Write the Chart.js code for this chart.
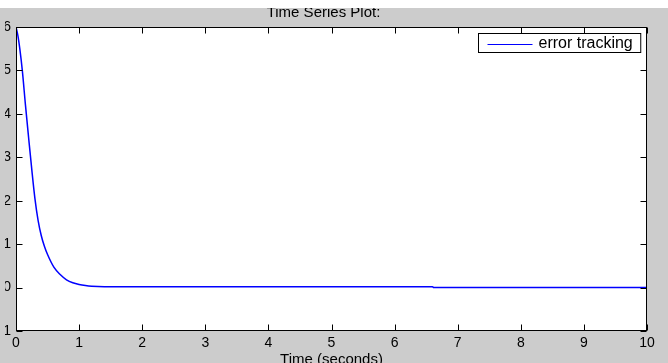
<!DOCTYPE html>
<html>
<head>
<meta charset="utf-8">
<title>Time Series Plot</title>
<script src="https://cdn.jsdelivr.net/npm/chart.js@4/dist/chart.umd.min.js"></script>
<style>
  html, body { margin: 0; padding: 0; background: #fff; overflow: hidden; }
  #wrap {
    position: absolute; left: 0; top: 8px;
    width: 668px; height: 355px;
    overflow: hidden; background: #cccccc;
  }
  #plot { position: absolute; left: 0; top: -10px; }
  /* figure edge trims the left side of the y tick labels */
  #edge { position: absolute; left: 0; top: 0; width: 5px; height: 355px; background: #cccccc; }
</style>
</head>
<body>
<div id="wrap"><canvas id="plot" width="668" height="380"></canvas><div id="edge"></div></div>
<script>
// error signal sampled over time
const timeSec = [0, 0.03, 0.06, 0.1, 0.15, 0.2, 0.25, 0.3, 0.35, 0.4, 0.45, 0.5, 0.6, 0.7,
  0.8, 0.9, 1.0, 1.1, 1.2, 1.4, 2, 3, 4, 5, 6, 6.6, 6.62, 7, 8, 9, 10];
const errorTracking = [6.0, 5.8, 5.5, 5.0, 4.2, 3.45, 2.72, 2.05, 1.55, 1.2, 0.95, 0.76, 0.47, 0.3,
  0.18, 0.11, 0.07, 0.045, 0.03, 0.02, 0.02, 0.02, 0.02, 0.02, 0.02, 0.02, 0.0, 0.0, 0.0, 0.0, 0.0];

const xTicks = [0, 1, 2, 3, 4, 5, 6, 7, 8, 9, 10];
const yTicks = [-1, 0, 1, 2, 3, 4, 5, 6];

const FONT = "'Liberation Sans', Arial, sans-serif";
const TICK_LEN = 6;

// MATLAB style axes: white plot area, full box with inward ticks on all four sides
const axesBox = {
  id: "axesBox",
  beforeDatasetsDraw(chart) {
    const { ctx, chartArea: a } = chart;
    ctx.save();
    ctx.fillStyle = "#fff";
    ctx.fillRect(a.left, a.top, a.right - a.left, a.bottom - a.top);
    ctx.restore();
  },
  afterDatasetsDraw(chart) {
    const { ctx, chartArea: a, scales } = chart;
    const L = Math.round(a.left) + 0.5, R = Math.round(a.right) - 0.5;
    const T = Math.round(a.top) + 0.5, B = Math.round(a.bottom) - 0.5;
    ctx.save();
    ctx.strokeStyle = "#000";
    ctx.lineWidth = 1;
    ctx.beginPath();
    xTicks.forEach((v) => {
      const px = Math.round(scales.x.getPixelForValue(v)) + 0.5;
      ctx.moveTo(px, B); ctx.lineTo(px, B - TICK_LEN);
      ctx.moveTo(px, T); ctx.lineTo(px, T + TICK_LEN);
    });
    yTicks.forEach((v) => {
      const py = Math.round(scales.y.getPixelForValue(v)) + 0.5;
      ctx.moveTo(L, py); ctx.lineTo(L + TICK_LEN, py);
      ctx.moveTo(R, py); ctx.lineTo(R - TICK_LEN, py);
    });
    ctx.stroke();
    ctx.strokeRect(L, T, R - L, B - T);
    ctx.restore();
  },
};

// legend box in the upper right corner of the axes
const insideLegend = {
  id: "insideLegend",
  afterDraw(chart) {
    const { ctx, chartArea: a } = chart;
    const ds = chart.data.datasets[0];
    ctx.save();
    ctx.font = "16px " + FONT;
    const tw = ctx.measureText(ds.label).width;
    const w = 9 + 45 + 6 + tw + 8, h = 19;
    const x = Math.round(a.right - 7 - w) + 0.5, y = Math.round(a.top + 6) + 0.5;
    ctx.fillStyle = "#fff";
    ctx.fillRect(x, y, w, h);
    ctx.strokeStyle = "#000";
    ctx.lineWidth = 1;
    ctx.strokeRect(x, y, w, h);
    ctx.strokeStyle = ds.borderColor;
    ctx.beginPath();
    ctx.moveTo(x + 9, y + 11); ctx.lineTo(x + 54, y + 11);
    ctx.stroke();
    ctx.fillStyle = "#000";
    ctx.textBaseline = "middle";
    ctx.fillText(ds.label, x + 60, y + h / 2 + 0.5);
    ctx.restore();
  },
};

new Chart(document.getElementById("plot"), {
  type: "line",
  data: {
    datasets: [
      {
        label: "error tracking",
        data: timeSec.map((t, i) => ({ x: t, y: errorTracking[i] })),
        borderColor: "#0000ff",
        borderWidth: 1.5,
        pointRadius: 0,
        cubicInterpolationMode: "monotone",
        fill: false,
      },
    ],
  },
  options: {
    responsive: false,
    devicePixelRatio: 1,
    animation: false,
    layout: { padding: { top: 0, right: 21, bottom: 0, left: 0 } },
    plugins: {
      legend: { display: false },
      tooltip: { enabled: false },
      title: {
        display: true,
        text: "Time Series Plot:",
        color: "#000",
        font: { family: FONT, size: 15, weight: "normal" },
        padding: { top: 6, bottom: 5 },
      },
    },
    scales: {
      x: {
        type: "linear",
        min: 0,
        max: 10,
        afterBuildTicks: (s) => { s.ticks = xTicks.map((v) => ({ value: v })); },
        afterFit: (s) => { s.height = 47; },
        grid: { display: false, drawTicks: false },
        border: { display: false },
        ticks: { color: "#000", padding: 4, font: { family: FONT, size: 14 } },
        title: {
          display: true,
          text: "Time (seconds)",
          color: "#000",
          font: { family: FONT, size: 15 },
          padding: { top: 0, bottom: 9 },
        },
      },
      y: {
        min: -1,
        max: 6,
        afterBuildTicks: (s) => { s.ticks = yTicks.map((v) => ({ value: v })); },
        afterFit: (s) => { s.width = 16; },
        grid: { display: false, drawTicks: false },
        border: { display: false },
        ticks: { color: "#000", padding: 5, font: { family: FONT, size: 14 } },
      },
    },
  },
  plugins: [axesBox, insideLegend],
});
</script>
</body>
</html>
